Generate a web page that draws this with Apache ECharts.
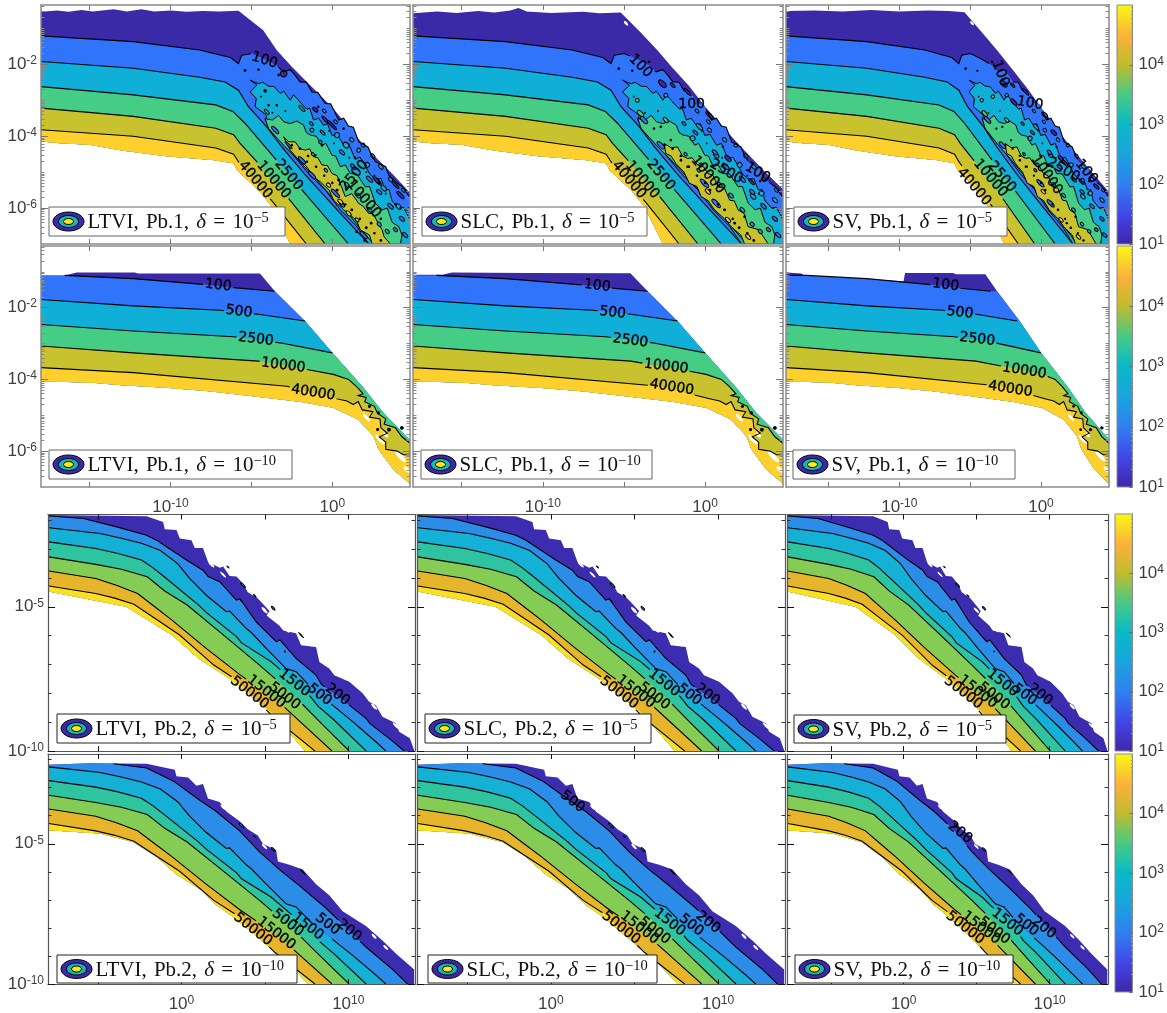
<!DOCTYPE html>
<html><head><meta charset="utf-8">
<script src="https://cdn.jsdelivr.net/npm/echarts@6/dist/echarts.min.js"></script>
<style>html,body{margin:0;padding:0;background:#fff}#c{width:1167px;height:1013px}</style>
</head><body><div id="c"></div>
<script>
// All contour data below are [log10 x, log10 y] pairs.
const COLORS_PB1=['#3b2aa8','#2f74fb','#10afd8','#45cc85','#c9c22f','#fdd02e'];
const COLORS_PB2=['#3c2db0','#2b8de8','#14b0d5','#2fc4a0','#85cc55','#e6b52c','#fbdf25'];
const LEVELS_PB1=[100,500,2500,10000,40000];
const LEVELS_PB2=[200,500,1500,5000,15000,50000];
const COLORBAR_STOPS=[[0,'#3e26a8'],[0.12,'#4245e4'],[0.25,'#2f80f2'],[0.38,'#1aa5dc'],[0.5,'#09b9c6'],[0.62,'#45ca88'],[0.75,'#c0bc2e'],[0.87,'#fbb13b'],[1,'#f8fa16']];
const COLORBAR_TICKS=[10,100,1000,10000];

// ---------- Pb.1, delta = 1e-5 ----------
const R1_UPPER_LTVI=[[-18,-.54],[-17,-.5],[-16.3,-.54],[-15.5,-.49],[-14.8,-.53],[-13.5,-.47],[-12.7,-.53],[-11.8,-.47],[-11,-.53],[-10,-.5],[-9,-.54],[-8,-.52],[-7,-.53],[-5.8,-.51],[-4.27,-1.05],[-3.43,-1.61],[-2.5,-2.07],[-1.37,-2.58],[0,-3.2],[2.04,-4.3],[3.69,-5.04],[4.83,-5.59]];
const R1_UPPER_SLC=[[-18,-.58],[-16.5,-.53],[-15.3,-.57],[-14,-.52],[-13,-.56],[-12,-.5],[-11.5,-.43],[-11,-.53],[-9.5,-.57],[-7.5,-.54],[-6.5,-.58],[-5.2,-.56],[-4,-1.1],[-2.94,-1.61],[-2,-2.1],[-1,-2.6],[0,-3.18],[2,-4.2],[3.7,-5],[4.85,-5.5]];
const R1_UPPER_SV=[[-18,-.52],[-16,-.5],[-14,-.53],[-12,-.49],[-10,-.53],[-8,-.5],[-6.5,-.52],[-5.4,-.55],[-4.3,-1.05],[-3.1,-1.61],[-2,-2.15],[-1,-2.65],[0,-3.2],[2,-4.25],[3.7,-5.05],[4.8,-5.55]];
const R1_LOWER=[[-18,-4.15],[-16.8,-4.2],[-15,-4.24],[-13,-4.4],[-10.25,-4.56],[-7.4,-4.66],[-6.1,-4.75],[-5.9,-4.94],[-4.57,-5.5],[-3.74,-5.96],[-2.6,-7]];
const R1_L100=[[-18,-1.21],[-12.3,-1.37],[-8.2,-1.6],[-6.3,-1.81],[-5.8,-1.98],[-5.6,-1.75],[-4.98,-1.7],[-4.2,-1.85],[-3.43,-2.03],[-3.02,-2.21],[-2.6,-2.15],[-2.3,-2.3],[-1.99,-2.49],[-1.6,-2.5],[-1.26,-2.77],[-.9,-2.78],[-.44,-3.09],[-.1,-3.1],[.39,-3.55],[.7,-3.5],[1,-3.72],[1.3,-3.75],[1.63,-4.16],[2.2,-4.3],[2.4,-4.5],[2.66,-4.71],[3.3,-4.85],[3.5,-5.1],[3.9,-5.27],[4.3,-5.4],[4.83,-5.73]];
const R1_L500=[[-18,-1.92],[-12.3,-2.11],[-8.2,-2.36],[-6.63,-2.49],[-5.8,-2.72],[-5.18,-3.18],[-4.05,-3.74],[-3.12,-4.3],[-1.67,-5.08],[.3,-6.05],[2.25,-7]];
const R1_L2500=[[-18,-2.62],[-12.3,-2.85],[-7.2,-3.13],[-6.15,-3.31],[-5.4,-3.64],[-2.7,-5.06],[1,-7]];
const R1_L10000=[[-18,-3.22],[-12.3,-3.45],[-7.2,-3.78],[-6.1,-3.96],[-5.7,-4.2],[-4.67,-4.71],[-2.71,-5.73],[-.44,-7]];
const R1_L40000=[[-18,-3.82],[-12.3,-4],[-7.2,-4.33],[-6.1,-4.5],[-5.8,-4.71],[-3.64,-5.85],[-1.6,-7]];
const R1_ISLAND_TEAL=[[-5.08,-2.44],[-4.8,-2.5],[-4.56,-2.54],[-4.3,-2.5],[-3.94,-2.61],[-3.6,-2.62],[-3.22,-2.81],[-3,-2.75],[-2.6,-3],[-2.4,-2.85],[-2.19,-2.95],[-1.9,-3.1],[-1.57,-3.25],[-1.4,-3.22],[-1.16,-3.55],[-.85,-3.5],[-.54,-3.7],[-.3,-3.65],[-.02,-3.98],[.3,-3.95],[.7,-4.25],[1,-4.2],[1.42,-4.65],[1.7,-4.58],[2.04,-4.82],[2.3,-5.05],[2.66,-5.2],[3,-5.18],[3.28,-5.5],[3.5,-5.48],[3.69,-5.8],[4.11,-6],[4.4,-5.98],[4.83,-6.35],[4.83,-7],[2.25,-7],[1.53,-6.52],[.5,-6.05],[-.43,-5.5],[-1.47,-5.04],[-2.5,-4.48],[-3.32,-4.06],[-4.15,-3.55],[-4.05,-3.42],[-4.4,-3.3],[-4.77,-3.18],[-4.7,-2.95],[-5.08,-2.77],[-4.66,-2.58]];
const R1_ISLAND_GREEN=[[-4.15,-3.51],[-3.7,-3.55],[-3.32,-3.42],[-3,-3.6],[-2.6,-3.65],[-2.2,-3.58],[-1.78,-3.69],[-1.6,-3.9],[-1.36,-3.97],[-1,-4],[-.64,-4.25],[-.4,-4.2],[-.02,-4.53],[.2,-4.55],[.5,-4.85],[.8,-4.8],[1.11,-5.04],[1.5,-5.05],[2.04,-5.41],[2.3,-5.4],[2.66,-5.87],[3.08,-6.05],[3.4,-6],[3.7,-6.4],[4.11,-6.52],[4.3,-6.75],[4.21,-7],[2.56,-7],[1.63,-6.52],[.8,-6.05],[-.23,-5.59],[-1.05,-5.17],[-2.08,-4.67],[-3.01,-4.25],[-3.94,-3.79]];
const R1_ISLAND_MUSTARD_LTVI=[[-3.01,-4.02],[-2.7,-4.15],[-2.29,-4.16],[-2,-4.35],[-1.67,-4.39],[-1.4,-4.35],[-1.16,-4.57],[-.9,-4.6],[-.64,-4.8],[-.3,-4.82],[-.02,-5.04],[.3,-5.1],[.8,-5.68],[1.2,-5.6],[1.63,-5.87],[1.9,-5.95],[2.25,-6.15],[2.5,-6.15],[3.08,-6.61],[3.2,-6.8],[3.59,-7],[2.46,-7],[2.3,-6.75],[1.73,-6.61],[1.5,-6.35],[1.01,-6.15],[.7,-6.05],[.08,-5.78],[-.2,-5.5],[-.74,-5.27],[-1.1,-5.15],[-1.67,-4.8],[-2,-4.7],[-2.6,-4.39]];
const R1_ISLAND_MUSTARD_SLC=[[-2.53,-4.2],[-2.1,-4.32],[-1.7,-4.3],[-1.4,-4.55],[-1.08,-4.62],[-.8,-4.6],[-.46,-4.8],[-.1,-4.85],[.17,-5.04],[.5,-5.1],[.79,-5.41],[1.2,-5.45],[1.51,-5.78],[1.8,-5.8],[2.03,-6.05],[2.4,-6.15],[2.65,-6.52],[3.3,-6.6],[3.89,-7],[2.44,-7],[2.2,-6.75],[1.61,-6.52],[1.2,-6.3],[.58,-6.05],[.2,-5.8],[-.25,-5.68],[-.5,-5.4],[-.97,-5.31],[-1.3,-5],[-1.8,-4.76],[-2.1,-4.55],[-2.42,-4.48]];
// blobs: log10 x, log10 y, colour index (or k / w), half-length, half-width (decades of x)
const R1_BLOBS_LTVI=[[-3.01,-2.26,0,.2],[-.43,-3.54,0,.3,.08],[-.02,-3.69,0,.4,.08],[-1.05,-3.26,0,.2,.1],[2.77,-5.24,0,.35,.1],[3.9,-5.36,0,.3,.08],[4.21,-5.64,0,.3,.1],
[-3.53,-3.83,1,.3,.1],[-1.88,-4.67,1,.3,.1],[-1.26,-5.08,1,.3,.1],[-2.7,-4.25,1,.3,.06],[.19,-5.59,1,.35,.1],[.6,-5.9,1,.2,.1],[1.94,-6.75,1,.3,.1],
[-1.88,-3.23,2,.25,.08],[-1.26,-3.83,2,.12],[.85,-4.25,2,.2,.15],[1.63,-4.39,2,.12],[2.15,-4.8,2,.15],[3.18,-5.45,2,.2,.12],[4.1,-5.96,2,.2,.12],[4.73,-6.05,2,.12],[.29,-3.97,2,.15],[-.74,-4.16,2,.1],
[-4.05,-3.32,3,.2,.08],[-.23,-5.36,5,.15,.1],[1.01,-6.15,5,.2,.1],[.5,-5.82,5,.2,.1],[1.53,-6.33,5,.15,.08],
[-4.56,-2.15,'k',.08],[-4.15,-2.74,'k',.12,.1],[-3.32,-2.3,'k',.08],[-5.39,-2.17,'k',.09],[-3.43,-3.14,'k',.08],[-3.94,-3.14,'k',.08],[-.64,-4.25,'k',.09],[-.87,-3.18,'k',.08],[.7,-3.79,'k',.08],[1.4,-4.6,'k',.08],[-1.57,-4.71,'k',.08],[-1.05,-4.53,'k',.08],[.39,-5.22,'k',.09],[2.4,-6.42,'k',.09],[1.5,-6.66,'k',.09],[2,-6.9,'k',.09],[3,-6.3,'k',.08],[3.9,-5.9,'k',.08],[2.9,-5.3,'k',.09]];
const R1_BLOBS_SLC=[[-2.63,-2.54,0,.3,.15],[-2,-2.58,0,.2,.08],[-1.08,-2.77,0,.3,.08],[.27,-3.42,0,.3,.1],[1.41,-4.62,0,.25,.12],[2.86,-5.27,0,.25,.08],
[-2.42,-2.86,2,.12],[-.35,-3.74,2,.25,.1],[.27,-3.83,2,.15,.1],[.68,-4.53,2,.2,.12],[2.96,-5.68,2,.2,.12],[2.13,-4.8,2,.15],[3.48,-5.59,2,.15],[4.31,-5.78,2,.2,.1],[-.77,-4.06,2,.15],
[-4.18,-3,3,.12],[-3.98,-3.37,3,.25,.12],[-2.42,-3.55,3,.2,.1],
[-3.77,-3.55,1,.3,.12],[-2.73,-4.25,1,.3,.12],[-.04,-5.31,1,.35,.12],[.68,-5.87,1,.35,.12],[-.25,-4.8,1,.12],
[.17,-5.54,5,.2,.1],[1.41,-6.33,5,.2,.1],[2.65,-6.8,5,.2,.1],[-4.87,-.86,'w',.18,.08],
[-5.32,-2.12,'k',.09],[-4.49,-2.18,'k',.08],[-3.46,-1.93,'k',.08],[-3.15,-3.79,'k',.08],[-2.73,-3.74,'k',.08],[-1.49,-4.67,'k',.09],[-2.11,-4.11,'k',.08],[-1.08,-4.85,'k',.08],[1.82,-6.42,'k',.09],[2.44,-6.24,'k',.09],[3.4,-5.25,'k',.08],[1.1,-4.3,'k',.08]];
const R1_BLOBS_SV=[[-1.93,-3.05,0,.3,.12],[.9,-3.9,0,.25,.12],[1.7,-4.75,0,.3,.1],[-3.4,-2.9,3,.12],[.3,-3.4,1,.2,.1],[3.9,-5.4,0,.25,.1]];
const R1_BLOBS_SHARED=[[1.2,-4.1,2,.15,.1],[2.5,-4.55,2,.15,.1],[3,-4.85,2,.18,.1],[3.6,-5.2,2,.15,.1],[4.4,-5.5,2,.15,.1],[.2,-3.6,2,.15,.08],[-.5,-3.3,2,.15,.08],[1.9,-4.25,2,.12],
[.6,-4.45,1,.2,.1],[1.3,-4.85,1,.22,.1],[2.3,-5.2,1,.25,.1],[2.9,-5.55,1,.2,.1],[3.6,-5.95,1,.22,.1],[4.3,-6.3,1,.2,.1],[-.6,-3.9,1,.2,.08],[-1.3,-3.65,1,.15,.08],[3.9,-6.6,1,.15,.1],[4.5,-6.75,1,.2,.1],
[.9,-5.35,2,.18,.1],[1.6,-5.65,2,.18,.1],[2.3,-6.05,2,.18,.1],[-1.2,-4.5,2,.12,.08],[-.4,-4.95,2,.14,.08],[2.9,-6.45,2,.15,.1],[3.4,-6.65,2,.15,.1],
[0,-5.3,'k',.08],[.3,-5.5,'k',.09],[.8,-5.9,'k',.08],[1.2,-6.05,'k',.09],[1.7,-6.3,'k',.08],[2.1,-6.55,'k',.09],[2.6,-6.7,'k',.08],[3,-6.9,'k',.09],[-.5,-5.1,'k',.08],[-1,-4.85,'k',.08],[-1.5,-4.55,'k',.08],[-2,-4.35,'k',.08],[-2.5,-4.25,'k',.08],
[1.05,-4.6,'k',.06],[2.1,-5,'k',.06],[2.6,-5.1,'k',.06],[3.3,-5.6,'k',.06],[4.2,-6,'k',.06],[.1,-4.2,'k',.06],[-.2,-3.85,'k',.06],[-2.9,-3.3,'k',.06],[-3.7,-3.35,'k',.06],[-4.4,-2.9,'k',.06]];
const R1_LABELS_LTVI=[[-4.19,-1.89,'100',-18],[-2.7,-5.08,'2500',-50],[-3.63,-5.22,'10000',-50],[-4.76,-5.22,'40000',-50],[1.35,-5.1,'2500',50],[1.95,-5.75,'10000',-50]];
const R1_LABELS_SLC=[[-3.98,-2.05,'100',-45],[-.83,-3.11,'100',0],[3.23,-5.02,'100',-30],[-2.73,-5.08,'2500',-50],[-3.87,-5.22,'10000',-50],[-4.7,-5.22,'40000',-50],[1.3,-4.99,'2500',-30],[.17,-5.08,'10000',-50]];
const R1_LABELS_SV=[[-2.87,-2.26,'100',-70],[-.77,-3.09,'100',-10],[3.2,-4.99,'100',-50],[-2.76,-5.13,'2500',-50],[-3.57,-5.17,'10000',-50],[-4.74,-5.41,'40000',-50],[.4,-5.08,'10000',-55],[1.57,-4.94,'2500',-30]];

// ---------- Pb.1, delta = 1e-10 ----------
const R2_UPPER_LTVI=[[-18,-1.1],[-16.54,-1.1],[-15.8,-1.02],[-12.2,-1.02],[-12,-1.05],[-4.47,-1.05],[-3.55,-1.54],[-1.69,-2.37],[0,-3.26],[1.92,-4.23],[3.15,-4.93],[4.85,-5.72]];
const R2_UPPER_SLC=[[-18,-1.08],[-16.2,-1.08],[-15.6,-1.02],[-11,-1.03],[-4.6,-1.04],[-3.5,-1.56],[-1.7,-2.38],[0,-3.26],[1.92,-4.23],[3.15,-4.93],[4.85,-5.7]];
const R2_UPPER_SV=[[-18,-1.02],[-16.9,-1.05],[-16.7,-1.12],[-9.7,-1.26],[-9.6,-1.03],[-6.2,-1.03],[-6,-1.07],[-3.93,-1.07],[-3.1,-1.54],[-1.5,-2.38],[0,-3.26],[1.92,-4.23],[3.15,-4.93],[4.85,-5.7]];
const R2_LOWER=[[-18,-4.05],[-14.8,-4.09],[-13,-4.16],[-10.25,-4.23],[-7.6,-4.33],[-4.9,-4.47],[-2,-4.62],[.06,-4.79],[1.6,-5.12],[2.54,-5.58],[2.85,-5.95],[3.77,-6.51],[4.85,-6.93]];
const R2_L100=[[-18,-1.1],[-16.54,-1.1],[-12.3,-1.19],[-7.98,-1.35],[-6.12,-1.44],[-3.55,-1.54]];
const R2_L500=[[-18,-1.77],[-12.3,-1.95],[-6.95,-2.07],[-4.47,-2.19],[-1.69,-2.37]];
const R2_L2500=[[-18,-2.47],[-12.3,-2.65],[-6.12,-2.81],[-3.24,-2.98],[0,-3.26]];
const R2_L10000=[[-18,-3.07],[-12.3,-3.26],[-4.58,-3.49],[-1.59,-3.72],[.06,-3.86],[1,-4],[1.5,-4.2],[1.9,-4.4],[1.6,-4.45],[2.1,-4.5],[2,-4.62],[2.6,-4.75],[2.8,-4.95],[3.3,-5.1],[3.2,-5.25],[3.9,-5.35],[4.3,-5.6],[4.85,-5.8]];
const R2_L40000=[[-18,-3.67],[-12.3,-3.81],[-2.82,-4.19],[.27,-4.54],[.9,-4.6],[1.3,-4.7],[1.6,-4.62],[1.85,-4.85],[2.5,-4.9],[2.3,-5.05],[2.95,-5.1],[3,-5.35],[3.4,-5.5],[2.9,-5.6],[3.3,-5.75],[3.3,-5.95],[4,-6],[4.4,-6.1],[4.85,-6.1]];
const R2_BLOBS=[[2.12,-5.07,'w',.3,.1],[2.95,-5.67,'w',.4,.12],[3.3,-5.55,'w',.2,.1],[4.19,-6.14,'w',.5,.14],[4.6,-6.51,'w',.25,.12],[2.85,-4.93,'k',.1],[2.3,-4.75,'k',.1],[2.8,-5.4,'k',.1],[3.5,-5.4,'k',.12],[4.3,-5.35,'k',.12]];
const R2_LABELS_LTVI=[[-7.05,-1.38,'100',-7],[-5.77,-2.11,'500',-7],[-4.72,-2.88,'2500',-7],[-3.03,-3.61,'10000',-7],[-1.18,-4.37,'40000',-9]];
const R2_LABELS_SLC=[[-6.65,-1.39,'100',-7],[-5.7,-2.14,'500',-7],[-4.6,-2.92,'2500',-7],[-2.4,-3.64,'10000',-7],[-2.05,-4.22,'40000',-9]];
const R2_LABELS_SV=[[-6.73,-1.37,'100',-7],[-5.72,-2.14,'500',-7],[-4.5,-2.88,'2500',-7],[-1.17,-3.76,'10000',-9],[-2.17,-4.27,'40000',-9]];

// ---------- Pb.2, shared contours ----------
const R3_UPPER=[[-7.95,-1.82],[-2.09,-1.86],[-1.1,-2.06],[-1,-2.31],[-.3,-2.34],[-.1,-2.63],[.6,-2.69],[.8,-2.96],[1.29,-2.96],[1.59,-3.44],[2.29,-3.65],[2.5,-3.6],[2.89,-3.93],[3.3,-3.95],[3.69,-4.19],[3.98,-4.5],[4.58,-4.71],[5.28,-5.15],[5.1,-5.3],[5.88,-5.66],[6.1,-5.82],[6.87,-5.92],[7.17,-6.33],[8.07,-6.39],[8.27,-6.91],[8.86,-7.14],[9.16,-7.37],[10.06,-7.6],[10.86,-8],[11.25,-8.29],[11.65,-8.41],[12.05,-8.81],[12.85,-9.04],[13.05,-9.33],[13.69,-9.56],[13.95,-9.97]];
const R3_LOWER=[[-7.95,-4.47],[-5.8,-4.71],[-3.3,-5],[-.57,-5.98],[1.03,-6.79],[2.85,-7.48],[5.37,-8.64],[7.42,-10]];
const R3_L200=[[-7.95,-1.85],[-5.88,-1.94],[-3.88,-2.23],[-2.09,-2.52],[-1.49,-2.69],[-.9,-2.92],[.3,-3.38],[1.29,-3.73],[1.6,-3.95],[2.29,-4.13],[3.29,-4.77],[3.5,-4.72],[4.48,-5.52],[5.68,-6.21],[5.9,-6.15],[6.87,-6.79],[8.07,-7.37],[8.4,-7.7],[9.4,-8.1],[10.06,-8.41],[11.06,-8.87],[11.3,-9.05],[12.45,-9.56],[13.35,-10]];
const R3_L500=[[-7.95,-2.26],[-4.88,-2.46],[-3.54,-2.63],[-2.4,-2.8],[-1.26,-3.05],[-.23,-3.5],[.5,-4.02],[1.49,-4.6],[2.69,-5.17],[2.89,-5.15],[3.88,-5.75],[4.2,-5.9],[5.08,-6.44],[6.27,-7.14],[6.87,-7.25],[8.1,-8],[9.06,-8.41],[10.26,-8.98],[10.6,-9.15],[11.65,-9.68],[12.25,-10]];
const R3_L1500=[[-7.95,-2.75],[-5.14,-2.98],[-3.8,-3.15],[-2.4,-3.38],[-1.7,-3.65],[-1.03,-3.96],[1.03,-4.94],[1.5,-5.2],[3.31,-6.04],[3.6,-6.25],[5.37,-6.9],[7.65,-8.06],[8.2,-8.45],[9.1,-8.9],[11.07,-10]];
const R3_L5000=[[-7.95,-3.27],[-5.14,-3.53],[-3.6,-3.7],[-2.05,-3.96],[-1,-4.45],[.34,-4.94],[2.4,-5.92],[4.68,-7.02],[6.5,-7.94],[8.4,-9.05],[10.05,-10]];
const R3_L15000=[[-7.95,-3.76],[-5.14,-4.02],[-3.9,-4.25],[-2.63,-4.54],[-1.6,-5],[-.57,-5.46],[1.48,-6.44],[3.54,-7.37],[5.82,-8.29],[9.02,-10]];
const R3_L50000=[[-7.95,-4.28],[-5.14,-4.54],[-4,-4.7],[-2.85,-4.91],[-1.6,-5.4],[-.11,-5.98],[1.94,-7.02],[3.31,-7.54],[5.59,-8.87],[8,-10]];
const R3_BLOBS=[[1.79,-3.53,'w',.25,.08],[2.49,-3.88,'w',.25,.06],[4.98,-5.12,'w',.25,.08],[6.27,-5.77,'w',.3,.08],[7.67,-6.27,'w',.25,.08],[11.55,-8.46,'w',.25,.08],[12.25,-8.78,'w',.2,.07],[12.85,-9.12,'w',.25,.07],[7.17,-5.98,'k',.25,.05],[3.69,-4.25,2,.2,.05],[5.5,-5.05,2,.15,.05],[4.4,-4.62,'k',.15,.05],[2.79,-3.62,'k',.12,.05],[6.2,-6.55,'k',.06],[3.6,-4.8,'k',.12,.04]];
const R3_LABELS=[[4.08,-7.98,'50000',-38],[5.08,-7.95,'15000',-38],[6.18,-8.1,'5000',-38],[6.77,-7.65,'1500',-38],[8.27,-8.05,'500',-38],[9.36,-8.05,'200',-38]];

const R4_UPPER=[[-7.95,-2.18],[-5.48,-2.13],[-2.09,-2.15],[-.9,-2.3],[-.4,-2.36],[-.3,-2.59],[.4,-2.64],[.9,-2.93],[1.29,-2.87],[1.59,-3.39],[2.29,-3.51],[2.69,-3.85],[3.49,-4.2],[3.98,-4.48],[4.58,-4.71],[4.88,-5],[5.68,-5.23],[5.78,-5.63],[6.47,-5.75],[7.27,-5.92],[8.07,-6.44],[8.86,-6.84],[9.66,-7.41],[11.06,-7.93],[12.05,-8.45],[12.85,-8.91],[13.95,-9.48]];
const R4_LOWER=[[-7.95,-4.52],[-4.88,-4.63],[-2.89,-4.94],[-1.49,-5.46],[-.3,-6.09],[1.1,-6.61],[2.09,-7.18],[3.09,-7.6],[4.5,-8.3],[6.47,-9.3],[7.6,-10]];
const R4_L200=[[-7.95,-2.18],[-5.48,-2.13],[-4.08,-2.15],[-2.09,-2.3],[-.5,-2.76],[1.1,-3.45],[2.09,-3.85],[3.49,-4.54],[4.68,-5.29],[5.88,-5.92],[7.07,-6.49],[8.67,-7.3],[10.06,-8.1],[11.06,-8.68],[12.65,-9.48],[13.55,-10]];
const R4_BLOBS=[[1.59,-3.1,'w',.2,.08],[2.49,-3.7,'w',.2,.06],[4.98,-5.1,'w',.22,.07],[11.55,-8.3,'w',.2,.07],[12.25,-8.7,'w',.2,.07],[7.27,-6,'k',.25,.05],[3.6,-4.35,2,.2,.05],[5.5,-5.2,2,.15,.05],[4.4,-4.75,'k',.12,.05]];
const R4_LABELS_LTVI=[[4.28,-8.05,'50000',-38],[5.68,-8.2,'15000',-38],[6.37,-7.82,'5000',-38],[7.57,-7.95,'1500',-38],[8.76,-7.87,'500',-38],[10.06,-8.1,'200',-38]];
const R4_LABELS_SLC=[[4.2,-8,'50000',-38],[5.3,-8,'15000',-38],[6.2,-8.1,'5000',-38],[7.1,-7.8,'1500',-38],[8.4,-7.9,'500',-38],[9.4,-7.8,'200',-38],[1.3,-3.5,'500',-38]];
const R4_LABELS_SV=[[4.2,-8,'50000',-38],[5.3,-8,'15000',-38],[6.2,-8.1,'5000',-38],[7.1,-7.8,'1500',-38],[8.4,-7.9,'500',-38],[9.6,-8,'200',-38],[3.85,-4.6,'200',-38]];

const METHODS=['LTVI','SLC','SV'];
const LEGEND_TITLES=[['Pb.1','5'],['Pb.1','10'],['Pb.2','5'],['Pb.2','10']];

// ---------- layout ----------
const COLS=[[[41,410],[413,783],[786,1109]],[[41,410],[413,783],[786,1109]],[[48,415],[417,785],[787,1108]],[[48,415],[417,785],[787,1108]]];
const ROWS=[[5,244],[246,487],[514.5,751],[754,992]];
const BAR=[[1117,1134,5,244],[1117,1134,246,487],[1115,1133,514,751],[1115,1133,754,992]];
const BOX=[[[49,285,207,236],[422,647,207,236],[794,1007,207,236]],
[[49,292,450,479],[421,652,450,479],[793,1015,450,479]],
[[57,290,714,743],[425,651,714,743],[794,1006,715,743]],
[[57,297,955,983],[428,657,955,983],[795,1013,955,983]]];

const FONT='"Liberation Sans",Arial,sans-serif';
const pow=e=>Math.pow(10,e);
const fmt=v=>'{b|10}{s|'+Math.round(Math.log10(v))+'}';
const rich=(c)=>({b:{fontSize:17,color:c,fontFamily:FONT},s:{fontSize:12,color:c,fontFamily:FONT,verticalAlign:'top',padding:[0,0,7,0]}});

const grids=[],xAxes=[],yAxes=[],series=[],graphics=[];

function logAxis(list,o){
  const i=list.length;
  list.push({type:'log',logBase:10,gridIndex:o.grid,position:o.pos,min:o.min,max:o.max,
    axisLine:{show:o.line!==false,onZero:false,lineStyle:{color:o.color,width:o.width||1}},
    axisTick:{show:true,inside:true,length:o.len,customValues:o.ticks,lineStyle:{color:o.tickColor||o.color,width:1}},
    axisLabel:{show:!!o.labels,customValues:o.labels||o.ticks,formatter:fmt,rich:rich('#3d3d3d'),margin:o.margin||6,hideOverlap:false},
    splitLine:{show:false},minorTick:{show:false},minorSplitLine:{show:false},z:5});
  return i;
}
function minorsLog(lo,hi,skip){const out=[];for(let k=Math.floor(lo);k<=Math.ceil(hi);k++){for(let m=1;m<10;m++){const e=k+Math.log10(m);if(e>lo&&e<hi&&!(m===1&&skip.includes(k)))out.push(pow(k)*m);}}return out;}

function segments(pts,labels,level){
  let segs=[];let cur=[pts[0]];
  const ls=labels.filter(l=>l.level===level);
  for(let i=1;i<pts.length;i++){
    let a=pts[i-1],b=pts[i];let ivs=[[0,1]];
    ls.forEach(l=>{
      const dx=b[0]-a[0],dy=b[1]-a[1],fx=a[0]-l.p[0],fy=a[1]-l.p[1];
      const A=dx*dx+dy*dy,B=2*(fx*dx+fy*dy),C=fx*fx+fy*fy-l.r*l.r,D=B*B-4*A*C;
      if(A===0||D<=0)return;
      const s=(-B-Math.sqrt(D))/(2*A),t=(-B+Math.sqrt(D))/(2*A);
      const nx=[];ivs.forEach(iv=>{
        if(t<=iv[0]||s>=iv[1]){nx.push(iv);return;}
        if(s>iv[0])nx.push([iv[0],s]);
        if(t<iv[1])nx.push([t,iv[1]]);
      });ivs=nx;
    });
    const at=t=>[a[0]+(b[0]-a[0])*t,a[1]+(b[1]-a[1])*t];
    if(ivs.length===0||ivs[0][0]>0){if(cur.length>1)segs.push(cur);cur=[];}
    ivs.forEach((iv,j)=>{
      if(j>0||iv[0]>0){if(cur.length>1)segs.push(cur);cur=[at(iv[0])];}
      cur.push(at(iv[1]));
    });
    if(ivs.length&&ivs[ivs.length-1][1]<1){if(cur.length>1)segs.push(cur);cur=[];}
  }
  if(cur.length>1)segs.push(cur);
  return segs;
}

function makeRender(p){
  return function(params,api){
    const P=q=>api.coord([pow(q[0]),pow(q[1])]);
    const kids=[];
    const lowerPx=p.lower.map(P);
    const fillTo=(pts)=>{
      const last=pts[pts.length-1];
      // a contour that stops on the outer edge of the region follows that edge to the far corner
      const tail=last[1]>p.ymin+1e-6?p.upper.filter(q=>q[0]>last[0]):[];
      const end=tail.length?tail[tail.length-1]:last;
      return pts.concat(tail).map(P).concat([P([end[0],p.ymin])]).concat(lowerPx.slice().reverse());
    };
    kids.push({type:'polygon',shape:{points:fillTo(p.upper)},style:{fill:p.colors[0]}});
    p.lines.forEach((l,i)=>kids.push({type:'polygon',shape:{points:fillTo(l.pts)},style:{fill:p.colors[i+1]}}));
    (p.islands||[]).forEach(s=>kids.push({type:'polygon',shape:{points:s.pts.map(P)},style:{fill:p.colors[s.c],stroke:'#000',lineWidth:1}}));
    const pxPerX=Math.abs(P([1,-3])[0]-P([0,-3])[0]);
    (p.blobs||[]).forEach(b=>{
      const c=P(b),col=b[2]==='k'?'#000':b[2]==='w'?'#fff':p.colors[b[2]];
      const rx=b[3]*pxPerX,ry=(b[4]===undefined?b[3]:b[4])*pxPerX;
      kids.push({type:'ellipse',x:c[0],y:c[1],rotation:-0.8,shape:{cx:0,cy:0,rx:rx,ry:ry},
        style:(b[2]==='k'||b[2]==='w')?{fill:col}:{fill:col,stroke:'#000',lineWidth:1}});
    });
    const labs=p.labels.map(l=>({level:+l[2],p:P(l),r:l[2].length*4.4+2}));
    p.lines.forEach(l=>{
      const px=l.pts.slice(l.from||0).map(P);
      segments(px,labs,l.level).forEach(seg=>kids.push({type:'polyline',shape:{points:seg},style:{fill:null,stroke:'#000',lineWidth:1.1}}));
    });
    p.labels.forEach(l=>{
      const c=P(l);
      kids.push({type:'text',x:c[0],y:c[1],rotation:l[3]*Math.PI/180,style:{text:l[2],fill:'#000',stroke:'#000',lineWidth:.35,font:'14px "DejaVu Sans",sans-serif',align:'center',verticalAlign:'middle'}});
    });
    return {type:'group',children:kids};
  };
}

const rowCfg=[
 {xmin:-18,xmax:4.8,ymin:-7,ymax:-.35,xt:[-15,-10,-5,0],xl:null,yM:[-2,-4,-6],yl:[-2,-4,-6],colors:COLORS_PB1,levels:LEVELS_PB1,lower:R1_LOWER,lines:[R1_L100,R1_L500,R1_L2500,R1_L10000,R1_L40000],c:'#8a8a8a',
  upper:[R1_UPPER_LTVI,R1_UPPER_SLC,R1_UPPER_SV],labels:[R1_LABELS_LTVI,R1_LABELS_SLC,R1_LABELS_SV],
  blobs:[R1_BLOBS_LTVI.concat(R1_BLOBS_SHARED),R1_BLOBS_SLC.concat(R1_BLOBS_SHARED),R1_BLOBS_SLC.concat(R1_BLOBS_SV,R1_BLOBS_SHARED)],
  islands:[[R1_ISLAND_TEAL,R1_ISLAND_GREEN,R1_ISLAND_MUSTARD_LTVI],[R1_ISLAND_TEAL,R1_ISLAND_GREEN,R1_ISLAND_MUSTARD_SLC],[R1_ISLAND_TEAL,R1_ISLAND_GREEN,R1_ISLAND_MUSTARD_SLC]],from:[0,0,0,0,0]},
 {xmin:-18,xmax:4.8,ymin:-7,ymax:-.28,xt:[-15,-10,-5,0],xl:[-10,0],yM:[-2,-4,-6],yl:[-2,-4,-6],colors:COLORS_PB1,levels:LEVELS_PB1,lower:R2_LOWER,lines:[R2_L100,R2_L500,R2_L2500,R2_L10000,R2_L40000],c:'#8a8a8a',
  upper:[R2_UPPER_LTVI,R2_UPPER_SLC,R2_UPPER_SV],labels:[R2_LABELS_LTVI,R2_LABELS_SLC,R2_LABELS_SV],
  blobs:[R2_BLOBS,R2_BLOBS,R2_BLOBS],islands:[[],[],[]],from:[1,0,0,0,0]},
 {xmin:-8,xmax:14,ymin:-10,ymax:-1.8,xt:[-5,0,5,10],xl:null,yM:[-5,-10],yl:[-5,-10],colors:COLORS_PB2,levels:LEVELS_PB2,lower:R3_LOWER,lines:[R3_L200,R3_L500,R3_L1500,R3_L5000,R3_L15000,R3_L50000],c:'#555',
  upper:[R3_UPPER,R3_UPPER,R3_UPPER],labels:[R3_LABELS,R3_LABELS,R3_LABELS],blobs:[R3_BLOBS,R3_BLOBS,R3_BLOBS],islands:[[],[],[]],from:[0,0,0,0,0,0]},
 {xmin:-8,xmax:14,ymin:-10,ymax:-1.8,xt:[-5,0,5,10],xl:[0,10],yM:[-5,-10],yl:[-5,-10],colors:COLORS_PB2,levels:LEVELS_PB2,lower:R4_LOWER,lines:[R4_L200,R3_L500,R3_L1500,R3_L5000,R3_L15000,R3_L50000],c:'#555',
  upper:[R4_UPPER,R4_UPPER,R4_UPPER],labels:[R4_LABELS_LTVI,R4_LABELS_SLC,R4_LABELS_SV],blobs:[R4_BLOBS,R4_BLOBS,R4_BLOBS],islands:[[],[],[]],from:[2,0,0,0,0,0]}
];

rowCfg.forEach((r,ri)=>{
  METHODS.forEach((m,ci)=>{
    const [x0,x1]=COLS[ri][ci],[y0,y1]=ROWS[ri];
    const g=grids.length;
    grids.push({left:x0,top:y0,width:x1-x0,height:y1-y0,containLabel:false,show:false});
    const xa={grid:g,min:pow(r.xmin),max:pow(r.xmax)},ya={grid:g,min:pow(r.ymin),max:pow(r.ymax)};
    const xTicks=r.xt.map(pow),yMaj=r.yM.map(pow);
    const yMin=(ri<2)?minorsLog(r.ymin,r.ymax,r.yM):[-9,-8,-7,-6,-4,-3,-2].map(pow);
    const xi=logAxis(xAxes,{...xa,pos:'bottom',color:r.c,tickColor:ri<2?'#777':'#111',width:ri<2?1.5:1.2,len:5,ticks:xTicks,labels:r.xl?r.xl.map(pow):null,margin:11});
    logAxis(xAxes,{...xa,pos:'top',color:r.c,tickColor:ri<2?'#777':'#111',width:ri<2?1.5:1.2,len:5,ticks:xTicks});
    const yi=logAxis(yAxes,{...ya,pos:'left',color:r.c,tickColor:ri<2?'#777':'#111',width:ri<2?1.5:1.2,len:7,ticks:yMaj,labels:ci===0?r.yl.map(pow):null,margin:4});
    logAxis(yAxes,{...ya,pos:'right',color:r.c,tickColor:ri<2?'#777':'#111',width:ri<2?1.5:1.2,len:7,ticks:yMaj});
    logAxis(yAxes,{...ya,pos:'left',line:false,color:ri<2?'#8a8a8a':'#333',len:3.5,ticks:yMin});
    logAxis(yAxes,{...ya,pos:'right',line:false,color:ri<2?'#8a8a8a':'#333',len:3.5,ticks:yMin});
    const lines=r.lines.map((pts,i)=>({level:r.levels[i],pts,from:ci===2&&ri===1?0:r.from[i]}));
    const isl=r.islands[ci].map((pts,i)=>({pts,c:i+2}));
    const panel={upper:r.upper[ci],lower:r.lower,lines,colors:r.colors,labels:r.labels[ci],blobs:r.blobs[ci],islands:isl,ymin:r.ymin};
    series.push({type:'custom',name:m+', '+LEGEND_TITLES[ri][0]+', delta=1e-'+LEGEND_TITLES[ri][1],xAxisIndex:xi,yAxisIndex:yi,clip:true,silent:true,z:2,
      renderItem:makeRender(panel),data:[[pow(r.xt[1]),pow(r.yM[0])]],encode:{x:0,y:1}});
    // legend box
    const [bx0,bx1,by0,by1]=BOX[ri][ci];
    const cy=(by0+by1)/2, ex=bx0+19.5;
    graphics.push({type:'group',z:50,children:[
      {type:'rect',z:50,shape:{x:bx0,y:by0,width:bx1-bx0,height:by1-by0},style:{fill:'#fff',stroke:ri<2?'#666':'#222',lineWidth:1}},
      {type:'ellipse',z:51,shape:{cx:ex,cy:cy,rx:15.5,ry:9.5},style:{fill:'#3b2aa8',stroke:'#000',lineWidth:1}},
      {type:'ellipse',z:52,shape:{cx:ex,cy:cy,rx:10,ry:6},style:{fill:'#1ab5b0',stroke:'#000',lineWidth:1}},
      {type:'ellipse',z:53,shape:{cx:ex,cy:cy,rx:5,ry:3},style:{fill:'#ffe81a',stroke:'#000',lineWidth:1}},
      {type:'text',z:54,x:bx0+38.5,y:cy+1,style:{text:'{a|'+m+',}{g|\u00a0}{a|'+LEGEND_TITLES[ri][0]+',}{g|\u00a0}{i|δ}{g|\u00a0}{a|=}{g|\u00a0}{a|10}{s|−'+LEGEND_TITLES[ri][1]+'}',verticalAlign:'middle',align:'left',
        rich:{a:{fontSize:21,fontFamily:'"Liberation Serif",serif',fill:'#111'},g:{fontSize:21,fontFamily:'"Liberation Serif",serif',padding:[0,1,0,1],fill:'#111'},i:{fontSize:21,fontStyle:'italic',fontFamily:'"Liberation Serif",serif',fill:'#111'},s:{fontSize:14.5,fontFamily:'"Liberation Serif",serif',fill:'#111',verticalAlign:'top',padding:[0,0,8,0]}}}}
    ]});
  });
  // colour bar
  const [bx0,bx1,by0,by1]=BAR[ri];
  const g=grids.length;
  grids.push({left:bx0,top:by0,width:bx1-bx0,height:by1-by0,containLabel:false,show:false});
  const xi=xAxes.length;
  xAxes.push({type:'value',gridIndex:g,min:0,max:1,show:false});
  const yi=logAxis(yAxes,{grid:g,min:10,max:1e5,pos:'right',color:'#8a8a8a',tickColor:'#666',len:3,ticks:COLORBAR_TICKS,labels:COLORBAR_TICKS,margin:6});
  logAxis(yAxes,{grid:g,min:10,max:1e5,pos:'right',line:false,color:'#999',len:1.5,ticks:minorsLog(1,5,[1,2,3,4])});
  series.push({type:'custom',name:'colorbar'+ri,xAxisIndex:xi,yAxisIndex:yi,silent:true,z:2,
    renderItem:(params,api)=>{
      const a=api.coord([0,1e5]),b=api.coord([1,10]);
      return {type:'rect',shape:{x:a[0],y:a[1],width:b[0]-a[0],height:b[1]-a[1]},
        style:{stroke:'#8a8a8a',lineWidth:1,fill:new echarts.graphic.LinearGradient(0,1,0,0,COLORBAR_STOPS.map(s=>({offset:s[0],color:s[1]})))}};
    },data:[[0,10]],encode:{x:0,y:1}});
});

const chart=echarts.init(document.getElementById('c'),null,{renderer:'canvas'});
chart.setOption({animation:false,backgroundColor:'#fff',textStyle:{fontFamily:FONT},grid:grids,xAxis:xAxes,yAxis:yAxes,series:series,graphic:{elements:graphics}});
</script>
</body></html>
